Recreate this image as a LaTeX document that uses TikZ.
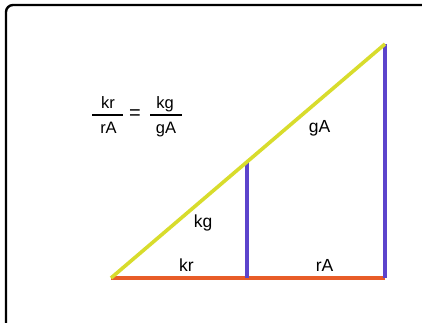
\documentclass[tikz,border=0pt]{standalone}
\usepackage{fontspec}
\setmainfont{Liberation Sans}
\definecolor{hypyellow}{RGB}{216,220,44}
\definecolor{legblue}{RGB}{92,68,204}
\definecolor{baseorange}{RGB}{232,92,40}
\begin{document}
\begin{tikzpicture}[x=1pt,y=-1pt,
  lbl/.style={anchor=base,inner sep=0pt,font=\fontsize{17.5}{19}\selectfont},
  frm/.style={anchor=base,inner sep=0pt,font=\fontsize{16.5}{18}\selectfont},
  seg/.style={line width=3.6pt}]
\useasboundingbox (0,0) rectangle (422,322);
\clip (0,0) rectangle (422,322);
\fill[white] (0,0) rectangle (422,322);
\draw[line width=2.4pt,rounded corners=7pt] (6,340) -- (6,5) -- (440,5);
% geometry points
\coordinate (A) at (111,278);
\coordinate (B) at (247,278);
\coordinate (C) at (385,278);
\coordinate (D) at (247,161.8);
\coordinate (E) at (385,44);
\draw[seg,baseorange] (A) -- (C);
\draw[seg,legblue] (B) -- (D);
\draw[seg,legblue] (C) -- (E);
\draw[seg,hypyellow] (A) -- (E);
% labels
\node[lbl] (lkg) at (203,227) {kg};
\node[lbl] (lkr) at (186.5,271) {kr};
\node[lbl] (lrA) at (324.5,271) {rA};
\node[lbl] (lgA) at (319.5,132) {gA};
% formula
\node[frm] (n1) at (108,108) {kr};
\node[frm] (d1) at (108.5,133) {rA};
\node[inner sep=0pt,font=\fontsize{20}{22}\selectfont] (eq) at (135,115) {=};
\node[frm] (n2) at (165,108) {kg};
\node[frm] (d2) at (166,133) {gA};
\coordinate (b1l) at (92,115);
\coordinate (b1r) at (123,115);
\coordinate (b2l) at (150,115);
\coordinate (b2r) at (182,115);
\draw[line width=1.3pt] (b1l) -- (b1r);
\draw[line width=1.3pt] (b2l) -- (b2r);
\end{tikzpicture}
\end{document}
